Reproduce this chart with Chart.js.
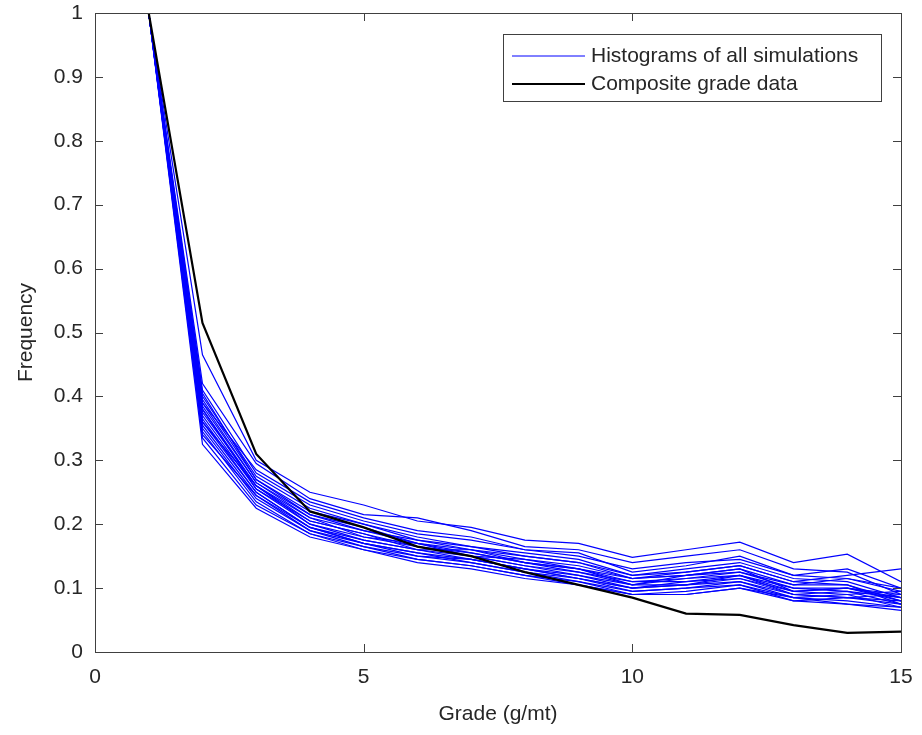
<!DOCTYPE html>
<html>
<head>
<meta charset="utf-8">
<title>Grade histograms</title>
<script src="https://cdn.jsdelivr.net/npm/chart.js@4/dist/chart.umd.min.js"></script>
<style>
  body { margin: 0; background: #fff; }
  canvas { display: block; }
</style>
</head>
<body>
<canvas id="gradeChart" width="922" height="735"></canvas>
<script>
// grade bins (g/mt)
const grades = [1, 2, 3, 4, 5, 6, 7, 8, 9, 10, 11, 12, 13, 14, 15];

// composite data (black)
const composite = [1, 0.515, 0.31, 0.22, 0.195, 0.165, 0.15, 0.125, 0.105, 0.085, 0.06, 0.058, 0.042, 0.03, 0.032];

// simulated histograms (blue)
const sim01 = [1, 0.465, 0.30, 0.25, 0.23, 0.205, 0.195, 0.175, 0.17, 0.148, 0.16, 0.172, 0.14, 0.153, 0.11];
const sim02 = [1, 0.42, 0.295, 0.24, 0.215, 0.21, 0.19, 0.165, 0.16, 0.14, 0.15, 0.16, 0.13, 0.125, 0.09];
const sim03 = [1, 0.41, 0.28, 0.23, 0.205, 0.185, 0.175, 0.16, 0.155, 0.125, 0.135, 0.15, 0.12, 0.13, 0.10];
const sim04 = [1, 0.40, 0.275, 0.225, 0.20, 0.18, 0.165, 0.15, 0.14, 0.12, 0.125, 0.135, 0.11, 0.12, 0.13];
const sim05 = [1, 0.395, 0.27, 0.215, 0.19, 0.175, 0.16, 0.145, 0.135, 0.115, 0.12, 0.13, 0.105, 0.105, 0.08];
const sim06 = [1, 0.385, 0.265, 0.21, 0.19, 0.17, 0.155, 0.14, 0.13, 0.11, 0.115, 0.125, 0.10, 0.10, 0.085];
const sim07 = [1, 0.38, 0.26, 0.205, 0.185, 0.165, 0.155, 0.14, 0.125, 0.105, 0.115, 0.12, 0.10, 0.095, 0.075];
const sim08 = [1, 0.375, 0.26, 0.20, 0.18, 0.165, 0.15, 0.135, 0.125, 0.11, 0.11, 0.12, 0.095, 0.10, 0.09];
const sim09 = [1, 0.37, 0.255, 0.20, 0.175, 0.16, 0.15, 0.135, 0.12, 0.105, 0.105, 0.115, 0.095, 0.09, 0.07];
const sim10 = [1, 0.365, 0.25, 0.195, 0.175, 0.16, 0.145, 0.13, 0.12, 0.10, 0.11, 0.115, 0.09, 0.095, 0.085];
const sim11 = [1, 0.36, 0.25, 0.195, 0.17, 0.155, 0.145, 0.13, 0.115, 0.10, 0.105, 0.11, 0.09, 0.085, 0.08];
const sim12 = [1, 0.355, 0.245, 0.19, 0.17, 0.155, 0.14, 0.125, 0.115, 0.095, 0.10, 0.11, 0.085, 0.09, 0.095];
const sim13 = [1, 0.35, 0.24, 0.19, 0.165, 0.15, 0.14, 0.125, 0.11, 0.095, 0.10, 0.105, 0.085, 0.08, 0.07];
const sim14 = [1, 0.345, 0.235, 0.185, 0.165, 0.145, 0.135, 0.12, 0.11, 0.09, 0.095, 0.105, 0.08, 0.075, 0.065];
const sim15 = [1, 0.335, 0.23, 0.185, 0.16, 0.145, 0.135, 0.12, 0.105, 0.09, 0.09, 0.10, 0.08, 0.085, 0.075];
const sim16 = [1, 0.325, 0.225, 0.18, 0.16, 0.14, 0.13, 0.115, 0.105, 0.09, 0.09, 0.10, 0.085, 0.075, 0.07];
const sim17 = [1, 0.39, 0.285, 0.235, 0.21, 0.19, 0.18, 0.16, 0.15, 0.13, 0.14, 0.145, 0.12, 0.115, 0.095];
const sim18 = [1, 0.405, 0.27, 0.22, 0.20, 0.175, 0.165, 0.155, 0.145, 0.12, 0.13, 0.14, 0.115, 0.11, 0.085];
const sim19 = [1, 0.36, 0.26, 0.21, 0.18, 0.17, 0.15, 0.145, 0.13, 0.115, 0.12, 0.125, 0.105, 0.115, 0.10];
const sim20 = [1, 0.38, 0.255, 0.205, 0.185, 0.16, 0.16, 0.14, 0.13, 0.105, 0.12, 0.13, 0.095, 0.10, 0.08];
const sim21 = [1, 0.34, 0.245, 0.195, 0.17, 0.15, 0.145, 0.13, 0.115, 0.10, 0.105, 0.12, 0.09, 0.085, 0.09];
const sim22 = [1, 0.39, 0.265, 0.215, 0.195, 0.17, 0.16, 0.15, 0.14, 0.115, 0.125, 0.135, 0.11, 0.105, 0.075];

const simulations = [sim01, sim02, sim03, sim04, sim05, sim06, sim07, sim08, sim09, sim10, sim11,
                     sim12, sim13, sim14, sim15, sim16, sim17, sim18, sim19, sim20, sim21, sim22];

const xTicks = [0, 5, 10, 15];
const legendLabels = ['Histograms of all simulations', 'Composite grade data'];

const FONT = 'Arial, "Liberation Sans", Helvetica, sans-serif';
const AXIS_COLOR = '#404040';
const TEXT_COLOR = '#262626';

function toPoints(values) {
    return grades.map((g, i) => ({ x: g, y: values[i] }));
}

const datasets = simulations.map(s => ({
    data: toPoints(s),
    borderColor: '#0000ff',
    borderWidth: 1.2,
    pointRadius: 0,
    tension: 0,
    order: 1
}));
datasets.push({
    data: toPoints(composite),
    borderColor: '#000000',
    borderWidth: 2.2,
    pointRadius: 0,
    tension: 0,
    order: 0
});

// box around the axes, inward ticks on all four sides, and the legend box
const matlabFrame = {
    id: 'matlabFrame',
    afterDraw(chart) {
        const ctx = chart.ctx;
        const a = chart.chartArea;
        const xs = chart.scales.x, ys = chart.scales.y;
        const tl = 8;
        ctx.save();
        ctx.strokeStyle = AXIS_COLOR;
        ctx.lineWidth = 1;
        ctx.strokeRect(Math.round(a.left) + 0.5, Math.round(a.top) + 0.5,
                       Math.round(a.right - a.left), Math.round(a.bottom - a.top));
        ctx.beginPath();
        xs.ticks.forEach(t => {
            const px = Math.round(xs.getPixelForValue(t.value)) + 0.5;
            ctx.moveTo(px, a.bottom); ctx.lineTo(px, a.bottom - tl);
            ctx.moveTo(px, a.top); ctx.lineTo(px, a.top + tl);
        });
        ys.ticks.forEach(t => {
            const py = Math.round(ys.getPixelForValue(t.value)) + 0.5;
            ctx.moveTo(a.left, py); ctx.lineTo(a.left + tl, py);
            ctx.moveTo(a.right, py); ctx.lineTo(a.right - tl, py);
        });
        ctx.stroke();

        // legend
        const bx = 503, by = 34, bw = 378, bh = 67;
        ctx.fillStyle = '#ffffff';
        ctx.fillRect(bx, by, bw, bh);
        ctx.strokeStyle = AXIS_COLOR;
        ctx.strokeRect(bx + 0.5, by + 0.5, bw, bh);
        const rows = [
            { label: legendLabels[0], color: '#0000ff', width: 1, y: by + 22 },
            { label: legendLabels[1], color: '#000000', width: 2, y: by + 50 }
        ];
        ctx.font = '21px ' + FONT;
        ctx.textBaseline = 'middle';
        ctx.textAlign = 'left';
        rows.forEach(r => {
            ctx.beginPath();
            ctx.strokeStyle = r.color;
            ctx.lineWidth = r.width;
            ctx.moveTo(bx + 9, r.y);
            ctx.lineTo(bx + 82, r.y);
            ctx.stroke();
            ctx.fillStyle = TEXT_COLOR;
            ctx.fillText(r.label, bx + 88, r.y);
        });
        ctx.restore();
    }
};

new Chart(document.getElementById('gradeChart'), {
    type: 'line',
    data: { datasets: datasets },
    options: {
        responsive: false,
        animation: false,
        events: [],
        layout: { padding: { left: 0, top: 13, right: 21, bottom: 0 } },
        plugins: {
            legend: { display: false },
            tooltip: { enabled: false }
        },
        scales: {
            x: {
                type: 'linear',
                min: 0,
                max: 15,
                afterFit(scale) {
                    scale.height = 83;
                    scale.paddingLeft = 0;
                    scale.paddingRight = 0;
                },
                afterBuildTicks(scale) { scale.ticks = xTicks.map(v => ({ value: v })); },
                grid: { display: false, drawTicks: false },
                border: { display: false },
                ticks: {
                    padding: 13,
                    color: TEXT_COLOR,
                    font: { family: FONT, size: 21 },
                    maxRotation: 0,
                    autoSkip: false
                },
                title: {
                    display: true,
                    text: 'Grade (g/mt)',
                    color: TEXT_COLOR,
                    font: { family: FONT, size: 21 },
                    padding: { top: 0, bottom: 8 }
                }
            },
            y: {
                min: 0,
                max: 1,
                afterFit(scale) {
                    scale.width = 95;
                    scale.paddingTop = 0;
                    scale.paddingBottom = 0;
                },
                grid: { display: false, drawTicks: false },
                border: { display: false },
                ticks: {
                    stepSize: 0.1,
                    padding: 12,
                    color: TEXT_COLOR,
                    font: { family: FONT, size: 21 },
                    callback: v => String(Math.round(v * 10) / 10)
                },
                title: {
                    display: true,
                    text: 'Frequency',
                    color: TEXT_COLOR,
                    font: { family: FONT, size: 21 },
                    padding: { top: 14, bottom: 0 }
                }
            }
        }
    },
    plugins: [matlabFrame]
});
</script>
</body>
</html>
